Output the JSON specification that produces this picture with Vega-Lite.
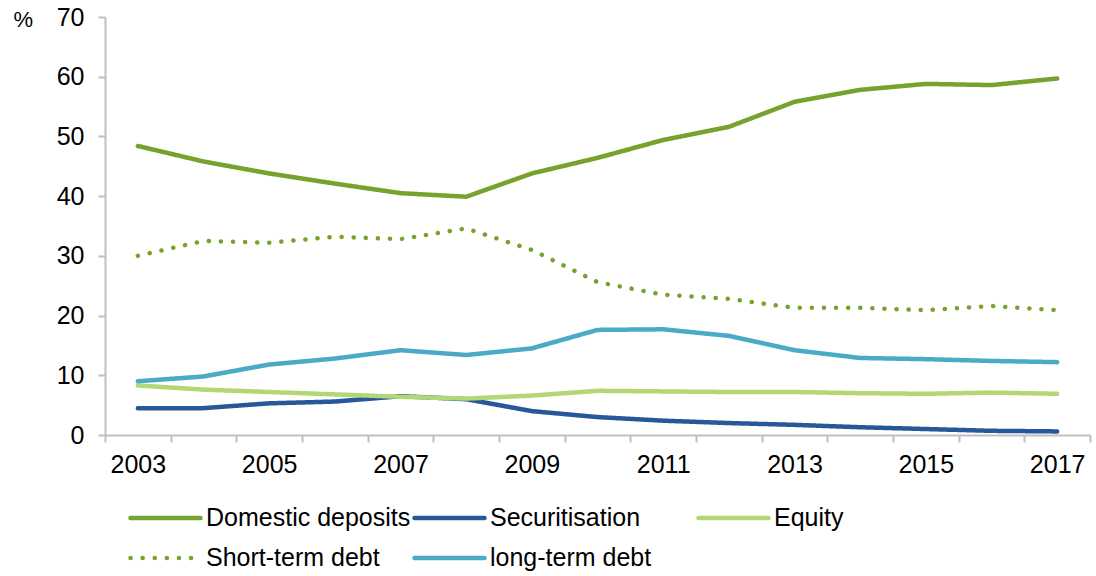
{
  "$schema": "https://vega.github.io/schema/vega-lite/v6.json",
  "width": 985,
  "height": 418,
  "autosize": {"type": "none"},
  "padding": {"left": 105, "top": 17, "right": 6, "bottom": 141},
  "background": "white",
  "config": {
    "view": {"stroke": null},
    "font": "Liberation Sans",
    "axis": {"labelFont": "Liberation Sans", "titleFont": "Liberation Sans", "labelColor": "#000", "titleColor": "#000"}
  },
  "data": {"values": [
    {"year": 2003, "series": "Domestic deposits", "value": 48.4},
    {"year": 2004, "series": "Domestic deposits", "value": 45.8},
    {"year": 2005, "series": "Domestic deposits", "value": 43.8},
    {"year": 2006, "series": "Domestic deposits", "value": 42.1},
    {"year": 2007, "series": "Domestic deposits", "value": 40.5},
    {"year": 2008, "series": "Domestic deposits", "value": 39.9},
    {"year": 2009, "series": "Domestic deposits", "value": 43.8},
    {"year": 2010, "series": "Domestic deposits", "value": 46.4},
    {"year": 2011, "series": "Domestic deposits", "value": 49.4},
    {"year": 2012, "series": "Domestic deposits", "value": 51.6},
    {"year": 2013, "series": "Domestic deposits", "value": 55.8},
    {"year": 2014, "series": "Domestic deposits", "value": 57.8},
    {"year": 2015, "series": "Domestic deposits", "value": 58.8},
    {"year": 2016, "series": "Domestic deposits", "value": 58.6},
    {"year": 2017, "series": "Domestic deposits", "value": 59.7},

    {"year": 2003, "series": "Securitisation", "value": 4.5},
    {"year": 2004, "series": "Securitisation", "value": 4.5},
    {"year": 2005, "series": "Securitisation", "value": 5.3},
    {"year": 2006, "series": "Securitisation", "value": 5.6},
    {"year": 2007, "series": "Securitisation", "value": 6.5},
    {"year": 2008, "series": "Securitisation", "value": 6.0},
    {"year": 2009, "series": "Securitisation", "value": 4.0},
    {"year": 2010, "series": "Securitisation", "value": 3.0},
    {"year": 2011, "series": "Securitisation", "value": 2.4},
    {"year": 2012, "series": "Securitisation", "value": 2.0},
    {"year": 2013, "series": "Securitisation", "value": 1.7},
    {"year": 2014, "series": "Securitisation", "value": 1.3},
    {"year": 2015, "series": "Securitisation", "value": 1.0},
    {"year": 2016, "series": "Securitisation", "value": 0.7},
    {"year": 2017, "series": "Securitisation", "value": 0.6},

    {"year": 2003, "series": "Equity", "value": 8.3},
    {"year": 2004, "series": "Equity", "value": 7.6},
    {"year": 2005, "series": "Equity", "value": 7.2},
    {"year": 2006, "series": "Equity", "value": 6.8},
    {"year": 2007, "series": "Equity", "value": 6.4},
    {"year": 2008, "series": "Equity", "value": 6.1},
    {"year": 2009, "series": "Equity", "value": 6.6},
    {"year": 2010, "series": "Equity", "value": 7.4},
    {"year": 2011, "series": "Equity", "value": 7.3},
    {"year": 2012, "series": "Equity", "value": 7.2},
    {"year": 2013, "series": "Equity", "value": 7.2},
    {"year": 2014, "series": "Equity", "value": 7.0},
    {"year": 2015, "series": "Equity", "value": 6.9},
    {"year": 2016, "series": "Equity", "value": 7.1},
    {"year": 2017, "series": "Equity", "value": 6.9},

    {"year": 2003, "series": "Short-term debt", "value": 30.0},
    {"year": 2004, "series": "Short-term debt", "value": 32.5},
    {"year": 2005, "series": "Short-term debt", "value": 32.2},
    {"year": 2006, "series": "Short-term debt", "value": 33.2},
    {"year": 2007, "series": "Short-term debt", "value": 32.8},
    {"year": 2008, "series": "Short-term debt", "value": 34.6},
    {"year": 2009, "series": "Short-term debt", "value": 31.0},
    {"year": 2010, "series": "Short-term debt", "value": 25.6},
    {"year": 2011, "series": "Short-term debt", "value": 23.5},
    {"year": 2012, "series": "Short-term debt", "value": 22.8},
    {"year": 2013, "series": "Short-term debt", "value": 21.3},
    {"year": 2014, "series": "Short-term debt", "value": 21.3},
    {"year": 2015, "series": "Short-term debt", "value": 20.9},
    {"year": 2016, "series": "Short-term debt", "value": 21.6},
    {"year": 2017, "series": "Short-term debt", "value": 20.9},

    {"year": 2003, "series": "long-term debt", "value": 9.0},
    {"year": 2004, "series": "long-term debt", "value": 9.8},
    {"year": 2005, "series": "long-term debt", "value": 11.8},
    {"year": 2006, "series": "long-term debt", "value": 12.8},
    {"year": 2007, "series": "long-term debt", "value": 14.2},
    {"year": 2008, "series": "long-term debt", "value": 13.4},
    {"year": 2009, "series": "long-term debt", "value": 14.5},
    {"year": 2010, "series": "long-term debt", "value": 17.6},
    {"year": 2011, "series": "long-term debt", "value": 17.7},
    {"year": 2012, "series": "long-term debt", "value": 16.6},
    {"year": 2013, "series": "long-term debt", "value": 14.2},
    {"year": 2014, "series": "long-term debt", "value": 12.9},
    {"year": 2015, "series": "long-term debt", "value": 12.7},
    {"year": 2016, "series": "long-term debt", "value": 12.4},
    {"year": 2017, "series": "long-term debt", "value": 12.2}
  ]},
  "mark": {"type": "line", "strokeWidth": 4.5, "strokeCap": "round", "strokeJoin": "round"},
  "encoding": {
    "x": {
      "field": "year", "type": "ordinal", "bandPosition": 0.5,
      "scale": {"type": "band", "paddingInner": 0, "paddingOuter": 0},
      "axis": {
        "title": null, "labelAngle": 0, "tickBand": "extent",
        "labelExpr": "datum.value % 2 == 1 ? datum.label : ''",
        "labelFontSize": 25, "labelPadding": 10, "tickSize": 7,
        "domainColor": "#BFBFBF", "tickColor": "#BFBFBF", "domainWidth": 2, "tickWidth": 2
      }
    },
    "y": {
      "field": "value", "type": "quantitative",
      "scale": {"domain": [0, 70], "nice": false},
      "axis": {
        "values": [0, 10, 20, 30, 40, 50, 60, 70],
        "grid": false, "title": "%", "titleAngle": 0, "titleX": -92, "titleY": 2,
        "titleAlign": "left", "titleBaseline": "middle", "titleFontSize": 22, "titleFontWeight": "normal",
        "labelFontSize": 25, "labelPadding": 14, "tickSize": 7,
        "domainColor": "#BFBFBF", "tickColor": "#BFBFBF", "domainWidth": 2, "tickWidth": 2
      }
    },
    "color": {
      "field": "series", "type": "nominal",
      "sort": ["Domestic deposits", "Securitisation", "Equity", "Short-term debt", "long-term debt"],
      "scale": {
        "domain": ["Domestic deposits", "Securitisation", "Equity", "Short-term debt", "long-term debt"],
        "range": ["#77A22E", "#27589A", "#B2D775", "#77A22E", "#4BABC6"]
      },
      "legend": {
        "title": null, "orient": "none", "direction": "horizontal", "legendX": 23, "legendY": 481,
        "columns": 3, "gridAlign": "all", "columnPadding": 1, "rowPadding": 0, "clipHeight": 40,
        "symbolType": "stroke", "symbolSize": 4900, "symbolStrokeWidth": 4.5,
        "labelFontSize": 25, "labelFont": "Liberation Sans", "labelColor": "#000", "labelOffset": 3,
        "labelLimit": 400,
        "encode": {"symbols": {"update": {"strokeCap": {"value": "round"}}}}
      }
    },
    "strokeDash": {
      "field": "series", "type": "nominal",
      "scale": {
        "domain": ["Domestic deposits", "Securitisation", "Equity", "Short-term debt", "long-term debt"],
        "range": [[1, 0], [1, 0], [1, 0], [0.1, 12], [1, 0]]
      },
      "legend": null
    }
  }
}
